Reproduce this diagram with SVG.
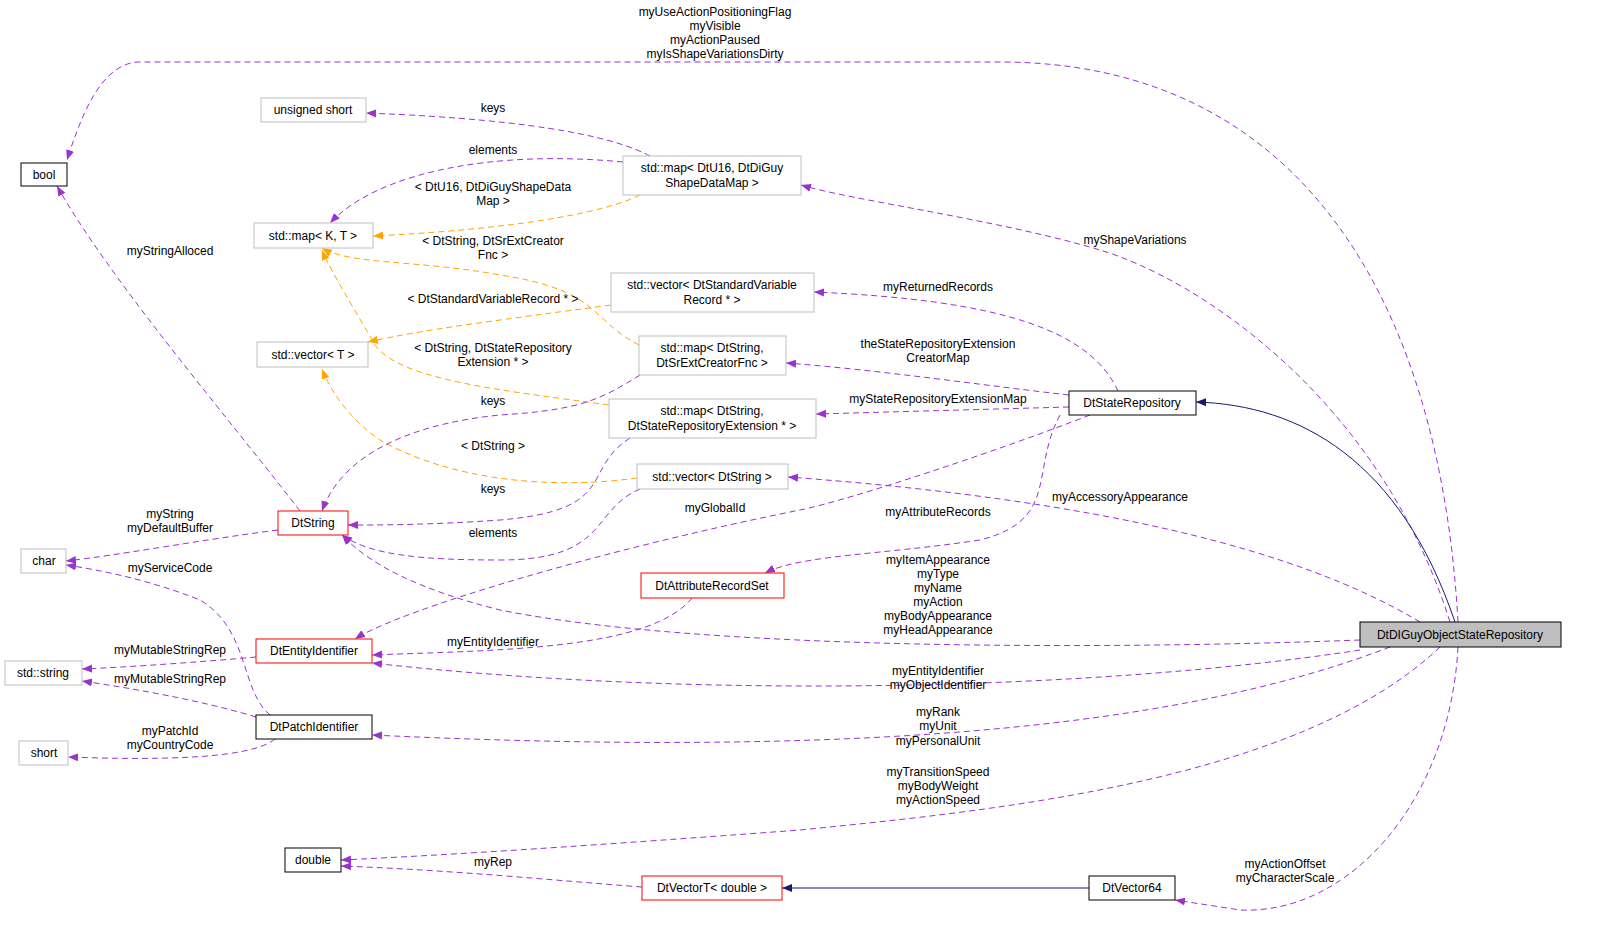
<svg xmlns="http://www.w3.org/2000/svg" width="1613" height="940" viewBox="0 0 1613 940">
<style>
text{font-family:"Liberation Sans",Arial,sans-serif;font-size:12px;fill:#000;text-anchor:middle}
.n rect{fill:#fff;stroke-width:1}
.g rect{stroke:#bfbfbf}
.b rect{stroke:#000}
.r rect{stroke:#ff0000}
.p{fill:none;stroke:#9a32cd;stroke-dasharray:6,4;marker-end:url(#mp)}
.o{fill:none;stroke:#ffa500;stroke-dasharray:6,4;marker-end:url(#mo)}
.s{fill:none;stroke:#191970;marker-end:url(#ms)}
</style>
<defs>
<marker id="mp" viewBox="0 0 10 10" refX="10" refY="5" markerWidth="10" markerHeight="10" markerUnits="userSpaceOnUse" orient="auto"><path d="M0,1L10,5L0,9z" fill="#9a32cd"/></marker>
<marker id="mo" viewBox="0 0 10 10" refX="10" refY="5" markerWidth="10" markerHeight="10" markerUnits="userSpaceOnUse" orient="auto"><path d="M0,1L10,5L0,9z" fill="#ffa500"/></marker>
<marker id="ms" viewBox="0 0 10 10" refX="10" refY="5" markerWidth="10" markerHeight="10" markerUnits="userSpaceOnUse" orient="auto"><path d="M0,1L10,5L0,9z" fill="#191970"/></marker>
</defs>
<rect width="1613" height="940" fill="#fff"/>
<g id="edges">
<path class="p" d="M1458,622 C1440,300 1300,62 1000,62 L140,62 C100,62 80,120 67,160"/>
<path class="p" d="M1450,622 C1380,400 1200,280 1100,250 C1000,220 850,200 801,185"/>
<path class="p" d="M1118,391 C1090,330 1000,300 814,292"/>
<path class="p" d="M1069,395 C980,385 880,370 786,363"/>
<path class="p" d="M1069,407 L816,414"/>
<path class="p" d="M1090,415 C1000,450 850,500 800,510 C600,550 400,610 355,639"/>
<path class="p" d="M1060,415 C1030,470 1060,520 980,540 C880,555 800,555 765,573"/>
<path class="p" d="M1420,622 C1300,550 1100,500 788,477"/>
<path class="p" d="M1360,640 C1100,650 700,650 500,610 C420,590 370,565 342,535"/>
<path class="p" d="M1360,650 C1100,690 700,700 372,663"/>
<path class="p" d="M1390,647 C1200,720 900,760 372,735"/>
<path class="p" d="M1440,647 C1300,780 1000,810 800,830 C600,845 450,855 341,860"/>
<path class="p" d="M1458,647 C1450,800 1350,915 1240,910 L1175,900"/>
<path class="s" d="M1455,622 C1400,460 1300,405 1196,402"/>
<path class="s" d="M1089,888 L782,888"/>
<path class="p" d="M642,887 C550,880 450,870 341,866"/>
<path class="p" d="M650,156 C620,140 550,120 366,113"/>
<path class="p" d="M623,162 C500,150 380,170 330,223"/>
<path class="o" d="M640,195 C600,215 500,230 373,236"/>
<path class="o" d="M639,345 C590,320 600,290 500,275 C420,260 350,265 322,248"/>
<path class="o" d="M611,305 C500,320 420,330 368,342"/>
<path class="o" d="M609,405 C500,390 400,380 375,345 C355,310 330,270 322,250"/>
<path class="o" d="M637,478 C550,490 450,480 380,440 C350,420 330,390 322,369"/>
<path class="p" d="M640,375 C600,400 580,410 500,415 C400,425 340,460 322,511"/>
<path class="p" d="M630,438 C580,470 620,510 500,520 C430,525 380,525 348,525"/>
<path class="p" d="M640,489 C590,510 610,560 500,560 C420,560 370,555 342,535"/>
<path class="p" d="M300,511 C230,420 110,280 57,186"/>
<path class="p" d="M278,530 C200,540 120,555 66,561"/>
<path class="p" d="M270,715 C240,690 250,630 200,600 C150,580 100,570 66,565"/>
<path class="p" d="M256,657 C200,662 130,667 82,669"/>
<path class="p" d="M256,717 C200,700 130,688 82,681"/>
<path class="p" d="M275,739 C250,760 150,760 68,757"/>
<path class="p" d="M692,598 C650,650 500,650 372,655"/>
</g>
<g id="labels">
<text x="715" y="16">myUseActionPositioningFlag</text><text x="715" y="30">myVisible</text><text x="715" y="44">myActionPaused</text><text x="715" y="58">myIsShapeVariationsDirty</text>
<text x="1135" y="244">myShapeVariations</text>
<text x="938" y="291">myReturnedRecords</text>
<text x="938" y="348">theStateRepositoryExtension</text><text x="938" y="362">CreatorMap</text>
<text x="938" y="403">myStateRepositoryExtensionMap</text>
<text x="715" y="512">myGlobalId</text>
<text x="938" y="516">myAttributeRecords</text>
<text x="1120" y="501">myAccessoryAppearance</text>
<text x="938" y="564">myItemAppearance</text><text x="938" y="578">myType</text><text x="938" y="592">myName</text><text x="938" y="606">myAction</text><text x="938" y="620">myBodyAppearance</text><text x="938" y="634">myHeadAppearance</text>
<text x="938" y="675">myEntityIdentifier</text><text x="938" y="689">myObjectIdentifier</text>
<text x="938" y="716">myRank</text><text x="938" y="730">myUnit</text><text x="938" y="745">myPersonalUnit</text>
<text x="938" y="776">myTransitionSpeed</text><text x="938" y="790">myBodyWeight</text><text x="938" y="804">myActionSpeed</text>
<text x="1285" y="868">myActionOffset</text><text x="1285" y="882">myCharacterScale</text>
<text x="493" y="866">myRep</text>
<text x="493" y="112">keys</text>
<text x="493" y="154">elements</text>
<text x="493" y="191">&lt; DtU16, DtDiGuyShapeData</text><text x="493" y="205">Map &gt;</text>
<text x="493" y="245">&lt; DtString, DtSrExtCreator</text><text x="493" y="259">Fnc &gt;</text>
<text x="493" y="303">&lt; DtStandardVariableRecord * &gt;</text>
<text x="493" y="352">&lt; DtString, DtStateRepository</text><text x="493" y="366">Extension * &gt;</text>
<text x="493" y="405">keys</text>
<text x="493" y="450">&lt; DtString &gt;</text>
<text x="493" y="493">keys</text>
<text x="493" y="537">elements</text>
<text x="170" y="255">myStringAlloced</text>
<text x="170" y="518">myString</text><text x="170" y="532">myDefaultBuffer</text>
<text x="170" y="572">myServiceCode</text>
<text x="170" y="654">myMutableStringRep</text>
<text x="170" y="683">myMutableStringRep</text>
<text x="170" y="735">myPatchId</text><text x="170" y="749">myCountryCode</text>
<text x="493" y="646">myEntityIdentifier</text>
</g>
<g id="n_bool" class="n b"><rect x="21" y="163" width="46" height="23"/><text x="44" y="179">bool</text></g>
<g id="n_ushort" class="n g"><rect x="261" y="98" width="105" height="24"/><text x="313" y="114">unsigned short</text></g>
<g id="n_mapdtu16" class="n g"><rect x="623" y="156" width="178" height="39"/><text x="712" y="172">std::map&lt; DtU16, DtDiGuy</text><text x="712" y="187">ShapeDataMap &gt;</text></g>
<g id="n_mapkt" class="n g"><rect x="254" y="223" width="119" height="25"/><text x="313" y="240">std::map&lt; K, T &gt;</text></g>
<g id="n_vecstd" class="n g"><rect x="611" y="273" width="203" height="39"/><text x="712" y="289">std::vector&lt; DtStandardVariable</text><text x="712" y="304">Record * &gt;</text></g>
<g id="n_vect" class="n g"><rect x="257" y="342" width="111" height="25"/><text x="313" y="359">std::vector&lt; T &gt;</text></g>
<g id="n_mapsr" class="n g"><rect x="639" y="336" width="147" height="39"/><text x="712" y="352">std::map&lt; DtString,</text><text x="712" y="367">DtSrExtCreatorFnc &gt;</text></g>
<g id="n_mapext" class="n g"><rect x="609" y="399" width="207" height="39"/><text x="712" y="415">std::map&lt; DtString,</text><text x="712" y="430">DtStateRepositoryExtension * &gt;</text></g>
<g id="n_staterepo" class="n b"><rect x="1069" y="391" width="127" height="24"/><text x="1132" y="407">DtStateRepository</text></g>
<g id="n_vecstr" class="n g"><rect x="637" y="464" width="151" height="25"/><text x="712" y="481">std::vector&lt; DtString &gt;</text></g>
<g id="n_dtstring" class="n r"><rect x="278" y="511" width="70" height="24"/><text x="313" y="527">DtString</text></g>
<g id="n_char" class="n g"><rect x="21" y="549" width="45" height="24"/><text x="44" y="565">char</text></g>
<g id="n_attr" class="n r"><rect x="641" y="573" width="143" height="25"/><text x="712" y="590">DtAttributeRecordSet</text></g>
<g id="n_entity" class="n r"><rect x="256" y="639" width="116" height="24"/><text x="314" y="655">DtEntityIdentifier</text></g>
<g id="n_stdstring" class="n g"><rect x="5" y="661" width="77" height="24"/><text x="43" y="677">std::string</text></g>
<g id="n_patch" class="n b"><rect x="256" y="715" width="116" height="24"/><text x="314" y="731">DtPatchIdentifier</text></g>
<g id="n_short" class="n g"><rect x="19" y="741" width="49" height="24"/><text x="44" y="757">short</text></g>
<g id="n_double" class="n b"><rect x="285" y="848" width="56" height="24"/><text x="313" y="864">double</text></g>
<g id="n_vectort" class="n r"><rect x="642" y="876" width="140" height="24"/><text x="712" y="892">DtVectorT&lt; double &gt;</text></g>
<g id="n_vec64" class="n b"><rect x="1089" y="876" width="86" height="24"/><text x="1132" y="892">DtVector64</text></g>
<g id="n_main" class="n b"><rect x="1360" y="622" width="201" height="25" style="fill:#bfbfbf"/><text x="1460" y="639">DtDIGuyObjectStateRepository</text></g>
</svg>
